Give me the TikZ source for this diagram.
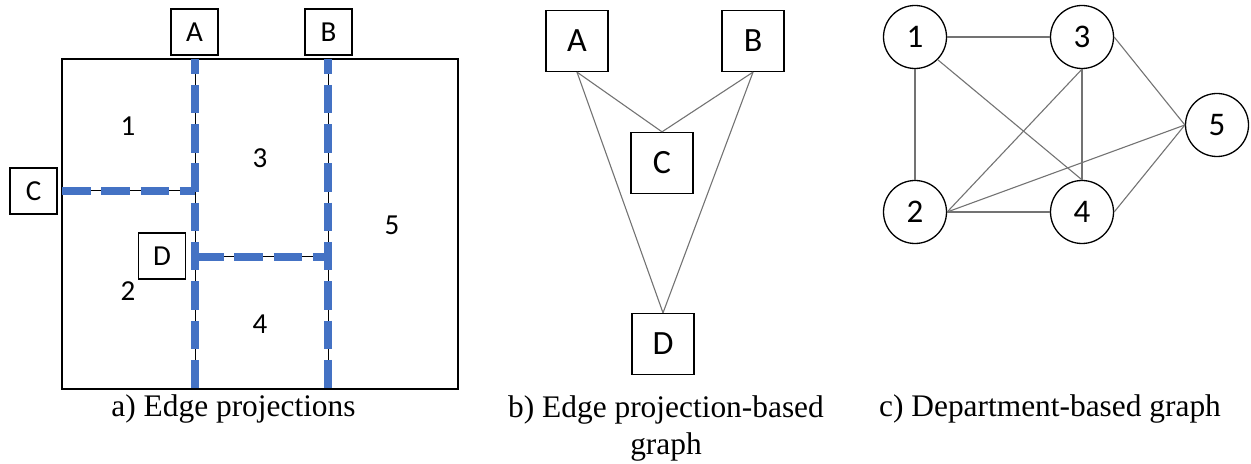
\documentclass[tikz,border=0pt]{standalone}
\usepackage{fontspec}
\setmainfont{Liberation Serif}
\newfontfamily\labelfont{Carlito}
\usepackage{xcolor}
\definecolor{projblue}{HTML}{4472C4}
\newlength{\projwidth}
\setlength{\projwidth}{3.75pt}

\begin{document}
\begin{tikzpicture}[x=0.5pt,y=-0.5pt,
            box/.style={draw,line width=0.65pt,inner sep=0pt,minimum width=23.5pt,minimum height=23pt,font=\labelfont\fontsize{14.5}{17}\selectfont},
            bigbox/.style={box,minimum width=31pt,minimum height=30.5pt,font=\labelfont\fontsize{17}{20}\selectfont},
            dept/.style={draw,circle,line width=0.65pt,inner sep=0pt,minimum size=31.5pt,font=\labelfont\fontsize{16.5}{19}\selectfont},
            area/.style={font=\labelfont\fontsize{14.5}{17}\selectfont},
            proj/.style={projblue,line width=\projwidth,dash pattern=on 14.25pt off 5.4pt},
            link/.style={black!55,line width=0.55pt},
            caption/.style={font=\fontsize{15.7}{18.5}\selectfont,align=center}]
            \useasboundingbox (0,0) rectangle (1251,464);

            \draw[line width=0.65pt] (62,59) rectangle (458,389);
            \coordinate (pa1) at (195,59);
            \coordinate (pa2) at (195,389);
            \coordinate (pb1) at (328,59);
            \coordinate (pb2) at (328,389);
            \coordinate (pc1) at (62,191);
            \coordinate (pc2) at (195,191);
            \coordinate (pd1) at (195,257);
            \coordinate (pd2) at (328,257);
            \draw[line width=0.5pt] (pa1)--(pa2);
            \draw[line width=0.5pt] (pb1)--(pb2);
            \draw[line width=0.5pt] (pc1)--(pc2);
            \draw[line width=0.5pt] (pd1)--(pd2);
            \draw[proj,dash phase=6.75pt] (pa1)--(pa2);
            \draw[proj,dash phase=6.75pt] (pb1)--(pb2);
            \draw[proj] (pc1)--(pc2);
            \draw[proj] (pd1)--(pd2);
            \node[box,fill=white] (a1) at (194.5,32) {A};
            \node[box,fill=white] (a2) at (328.5,32) {B};
            \node[box,fill=white] (a3) at (33.5,191) {C};
            \node[box,fill=white] (a4) at (162,256) {D};
            \node[area] (r1) at (128,126) {1};
            \node[area] (r3) at (260,158) {3};
            \node[area] (r5) at (392,225) {5};
            \node[area] (r2) at (128,291) {2};
            \node[area] (r4) at (260,324) {4};
            \node[caption] (capa) at (233.5,409) {a) Edge projections};

            \node[bigbox] (A) at (577,41) {A};
            \node[bigbox] (B) at (753,41) {B};
            \node[bigbox] (C) at (662,163) {C};
            \node[bigbox] (D) at (663,344) {D};
            \draw[link] (A.south)--(C.north);
            \draw[link] (B.south)--(C.north);
            \draw[link] (A.south)--(D.north);
            \draw[link] (B.south)--(D.north);
            \node[caption] (capb) at (666,428) {b) Edge projection-based\\graph};

            \node[dept] (d1) at (915,37) {1};
            \node[dept] (d3) at (1082,37) {3};
            \node[dept] (d5) at (1217,125) {5};
            \node[dept] (d2) at (915,212) {2};
            \node[dept] (d4) at (1082,212) {4};
            \draw[link] (d1.east)--(d3.west);
            \draw[link] (d1.south)--(d2.north);
            \draw[link] (d1.south east)--(d4.north);
            \draw[link] (d3.south)--(d2.east);
            \draw[link] (d3.south)--(d4.north);
            \draw[link] (d3.east)--(d5.west);
            \draw[link] (d2.east)--(d5.west);
            \draw[link] (d2.east)--(d4.west);
            \draw[link] (d4.east)--(d5.west);
            \node[caption] (capc) at (1050,409) {c) Department-based graph};
             \end{tikzpicture}
\end{document}
